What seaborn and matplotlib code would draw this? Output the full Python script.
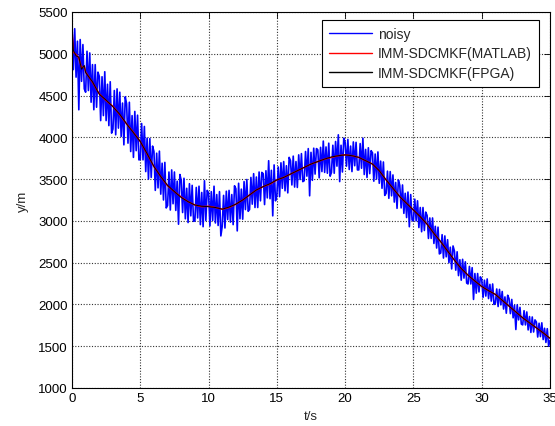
import numpy as np
import matplotlib
matplotlib.use("Agg")
import matplotlib.pyplot as plt
from matplotlib.lines import Line2D
import seaborn as sns

# --- data ---
# filtered estimates
t_est = [0.0, 0.1, 0.3, 0.5, 0.7, 0.9, 1.0, 1.5, 2.0, 2.5, 3.0, 3.5, 4.0, 4.5,
         5.0, 5.5, 6.0, 6.5, 7.0, 7.5, 8.0, 8.5, 9.0, 9.5, 10.0, 10.5, 11.0,
         11.5, 12.0, 12.5, 13.0, 13.5, 14.0, 14.5, 15.0, 15.5, 16.0, 16.5,
         17.0, 17.5, 18.0, 18.5, 19.0, 19.5, 20.0, 20.5, 21.0, 21.5, 22.0,
         22.5, 23.0, 23.5, 24.0, 24.5, 25.0, 25.5, 26.0, 26.5, 27.0, 27.5,
         28.0, 28.5, 29.0, 29.5, 30.0, 30.5, 31.0, 31.5, 32.0, 32.5, 33.0,
         33.5, 34.0, 34.5, 35.0]
y_matlab = [5300, 5020, 4990, 4950, 4830, 4850, 4780, 4660, 4520, 4440, 4370,
            4270, 4160, 4060, 3950, 3800, 3650, 3530, 3420, 3350, 3285, 3230,
            3190, 3170, 3175, 3160, 3140, 3160, 3200, 3250, 3310, 3370, 3410,
            3440, 3490, 3520, 3560, 3600, 3640, 3680, 3710, 3740, 3760, 3780,
            3790, 3780, 3760, 3720, 3680, 3600, 3490, 3390, 3290, 3210, 3130,
            3050, 2960, 2850, 2750, 2640, 2530, 2430, 2350, 2280, 2215, 2165,
            2120, 2050, 1980, 1910, 1840, 1780, 1720, 1660, 1595]
y_fpga = [5290, 5040, 4975, 4960, 4815, 4860, 4775, 4665, 4515, 4445, 4365,
          4275, 4160, 4055, 3950, 3805, 3650, 3530, 3425, 3350, 3280, 3230,
          3190, 3175, 3170, 3160, 3140, 3165, 3200, 3250, 3310, 3370, 3410,
          3445, 3490, 3520, 3560, 3600, 3640, 3680, 3710, 3740, 3765, 3780,
          3790, 3780, 3760, 3720, 3680, 3600, 3490, 3390, 3290, 3210, 3130,
          3050, 2960, 2850, 2750, 2640, 2530, 2430, 2350, 2280, 2215, 2165,
          2120, 2050, 1980, 1910, 1840, 1780, 1720, 1660, 1595]

# noisy measurement, one value every 0.1 s from 0 to 35 s
noisy = [
    5340, 4810, 5300, 4720, 5150, 4330, 5170, 4670, 5110, 4580,
    4540, 5030, 4560, 5010, 4420, 4870, 4330, 4870, 4360, 4780,
    4730, 4200, 4725, 4260, 4785, 4200, 4635, 4140, 4665, 4050,
    4100, 4560, 4030, 4580, 4110, 4540, 4010, 4410, 3910, 4485,
    4400, 3930, 4420, 3830, 4260, 3760, 4310, 3840, 4265, 3730,
    3735, 4165, 3730, 4130, 3590, 3990, 3500, 3985, 3520, 3895,
    3830, 3365, 3810, 3395, 3835, 3320, 3690, 3250, 3700, 3155,
    3185, 3585, 3130, 3610, 3205, 3585, 3125, 3475, 2960, 3555,
    3485, 3100, 3510, 3025, 3390, 2980, 3445, 3060, 3425, 2995,
    3000, 3400, 3035, 3415, 2955, 3340, 2930, 3480, 3005, 3365,
    3335, 2940, 3350, 3005, 3415, 2975, 3315, 2945, 3350, 2820,
    2935, 3305, 2915, 3355, 3015, 3365, 2985, 3315, 2955, 3420,
    3385, 2880, 3450, 3025, 3380, 3020, 3470, 3135, 3495, 3115,
    3135, 3520, 3200, 3565, 3160, 3525, 3160, 3585, 3240, 3580,
    3565, 3195, 3600, 3275, 3720, 3265, 3605, 3060, 3670, 3240,
    3300, 3645, 3290, 3695, 3390, 3710, 3360, 3660, 3335, 3760,
    3720, 3430, 3775, 3405, 3710, 3400, 3790, 3495, 3805, 3470,
    3480, 3830, 3535, 3865, 3300, 3820, 3485, 3870, 3560, 3865,
    3850, 3515, 3880, 3590, 3955, 3580, 3885, 3570, 3930, 3535,
    3580, 3905, 3570, 3950, 3655, 4030, 3470, 3905, 3585, 3990,
    3940, 3655, 3975, 3615, 3895, 3590, 3945, 3660, 3940, 3610,
    3610, 3925, 3630, 3990, 3555, 3855, 3520, 3875, 3565, 3840,
    3815, 3475, 3800, 3500, 3825, 3450, 3715, 3390, 3705, 3305,
    3330, 3595, 3270, 3590, 3300, 3550, 3225, 3460, 3150, 3490,
    3425, 3155, 3430, 3090, 3330, 3040, 3345, 2930, 3315, 3010,
    3000, 3260, 3000, 3240, 2920, 3160, 2870, 3160, 2885, 3105,
    3065, 2790, 3035, 2790, 3035, 2730, 2935, 2675, 2925, 2605,
    2615, 2835, 2555, 2820, 2570, 2775, 2500, 2685, 2425, 2700,
    2640, 2410, 2630, 2345, 2535, 2290, 2540, 2315, 2510, 2255,
    2245, 2455, 2245, 2440, 2060, 2370, 2135, 2370, 2150, 2330,
    2300, 2085, 2290, 2100, 2305, 2070, 2240, 2040, 2245, 2000,
    2015, 2185, 1975, 2180, 1995, 2155, 1945, 2090, 1895, 2110,
    2070, 1890, 2060, 1840, 1990, 1700, 1995, 1815, 1965, 1765,
    1755, 1925, 1755, 1910, 1695, 1855, 1665, 1850, 1670, 1815,
    1790, 1610, 1775, 1615, 1780, 1580, 1715, 1545, 1710, 1500,
    1570,
]
t_noisy = np.linspace(0, 35, len(noisy))

x_ticks = [0, 5, 10, 15, 20, 25, 30, 35]
y_ticks = [1000, 1500, 2000, 2500, 3000, 3500, 4000, 4500, 5000, 5500]
labels = ["noisy", "IMM-SDCMKF(MATLAB)", "IMM-SDCMKF(FPGA)"]
colors = ["#0000ff", "#ff0000", "#000000"]

# --- style ---
sns.set_theme(style="white")
plt.rcParams["font.family"] = ["Liberation Sans", "DejaVu Sans"]
plt.rcParams["font.size"] = 9.5

fig = plt.figure(figsize=(5.55, 4.27), dpi=100)
fig.patch.set_facecolor("white")
ax = fig.add_axes([0.1297, 0.089, 0.8613, 0.8806])

sns.lineplot(x=t_noisy, y=noisy, color=colors[0], linewidth=1.2,
             estimator=None, sort=False, ax=ax)
sns.lineplot(x=t_est, y=y_matlab, color=colors[1], linewidth=1.1,
             estimator=None, sort=False, ax=ax)
sns.lineplot(x=t_est, y=y_fpga, color=colors[2], linewidth=0.7,
             estimator=None, sort=False, ax=ax)

ax.set_xlim(0, 35)
ax.set_ylim(1000, 5500)
ax.set_xticks(x_ticks)
ax.set_yticks(y_ticks)
ax.set_xlabel("t/s", fontsize=9.5, labelpad=4)
ax.set_ylabel("y/m", fontsize=9.5, labelpad=7)

ax.grid(True, color="#333333", linestyle=(0, (1, 1.5)), linewidth=0.8)
ax.tick_params(direction="in", length=4, width=0.6, top=True, right=True,
               labelsize=9.5, colors="black", pad=3)
for s in ax.spines.values():
    s.set_color("black")
    s.set_linewidth(0.8)

handles = [Line2D([], [], color=c, linewidth=1.0) for c in colors]
leg = ax.legend(handles, labels, loc="upper right",
                bbox_to_anchor=(0.977, 0.979), borderaxespad=0,
                frameon=True, fancybox=False, edgecolor="black",
                framealpha=1, handlelength=3.1, handletextpad=0.45,
                labelspacing=0.4, fontsize=10, borderpad=0.5)
leg.get_frame().set_linewidth(0.8)

fig.savefig("out.png", dpi=100, facecolor="white")
